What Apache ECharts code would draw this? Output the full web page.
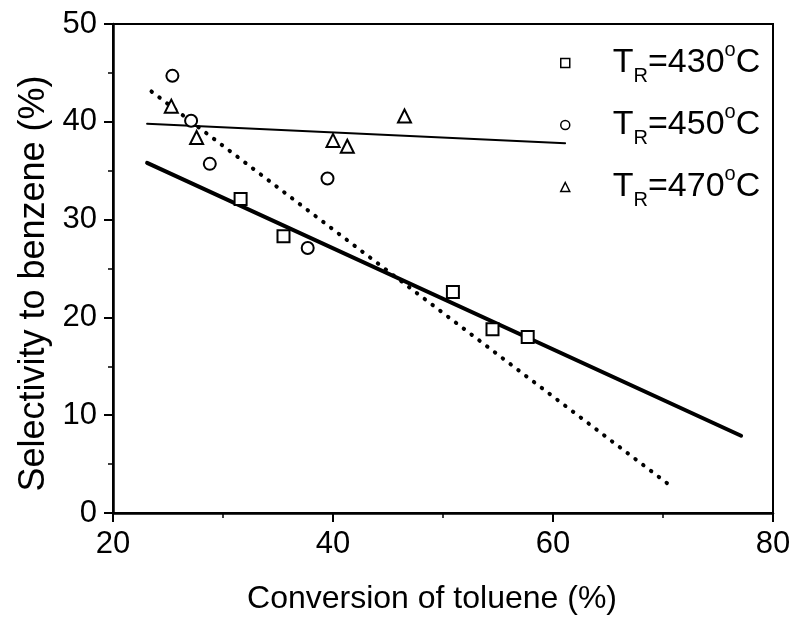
<!DOCTYPE html>
<html>
<head>
<meta charset="utf-8">
<script src="https://cdn.jsdelivr.net/npm/echarts@6/dist/echarts.min.js"></script>
<style>
  html, body { margin: 0; padding: 0; background: #fff; }
  #main { width: 797px; height: 621px; }
</style>
</head>
<body>
<div id="main"></div>
<script>
// measured points, [conversion %, selectivity %]
var temps = ['430', '450', '470'];
var pts430 = [[31.6, 32.1], [35.5, 28.3], [50.9, 22.6], [54.5, 18.8], [57.7, 18.0]];
var pts450 = [[25.4, 44.7], [27.1, 40.1], [28.8, 35.7], [37.7, 27.1], [39.5, 34.2]];
var pts470 = [[25.3, 41.6], [27.6, 38.4], [40.0, 38.1], [41.3, 37.5], [46.5, 40.6]];
// fitted lines (end points)
var fit430 = [[23.1, 35.8], [77.1, 7.9]];
var fit450 = [[23.5, 43.1], [70.9, 2.6]];
var fit470 = [[23.1, 39.8], [61.1, 37.8]];

var FONT = 'Liberation Sans, Arial, sans-serif';
var chart = echarts.init(document.getElementById('main'));

function pointSeries(name, data, symbol, size) {
    return {
        name: name,
        type: 'scatter',
        data: data,
        symbol: symbol,
        symbolSize: size,
        itemStyle: { color: '#fff', borderColor: '#000', borderWidth: 2, opacity: 1 },
        z: 3
    };
}
function fitSeries(name, data, width, type) {
    return {
        name: name,
        type: 'line',
        data: data,
        symbol: 'none',
        lineStyle: { color: '#000', width: width, type: type, cap: 'round' },
        z: 2,
        silent: true
    };
}

var option = {
    backgroundColor: '#fff',
    animation: false,
    textStyle: { fontFamily: FONT, color: '#000' },
    grid: { left: 113, right: 24, top: 24, bottom: 108, show: true, borderColor: '#000', borderWidth: 2 },
    legend: {
        data: temps,
        orient: 'vertical',
        left: 560,
        top: 40,
        padding: 0,
        itemWidth: 9,
        itemHeight: 9,
        itemGap: 16,
        itemStyle: { color: '#fff', borderColor: '#000', borderWidth: 1.5 },
        formatter: function (t) {
            return '{t|T}{sub|R}{t|=' + t + '}{sup|o}{t|C}';
        },
        textStyle: {
            padding: [0, 0, 0, 38],
            rich: {
                t: { fontSize: 34, fontFamily: FONT, color: '#000', lineHeight: 46 },
                sub: { fontSize: 20, fontFamily: FONT, color: '#000', lineHeight: 16, verticalAlign: 'bottom' },
                sup: { fontSize: 20, fontFamily: FONT, color: '#000', lineHeight: 26, verticalAlign: 'top' }
            }
        }
    },
    xAxis: {
        type: 'value',
        min: 20, max: 80, interval: 20,
        name: 'Conversion of toluene (%)',
        nameLocation: 'middle',
        nameGap: 70,
        nameTextStyle: { fontSize: 32, fontFamily: FONT, color: '#000', padding: [0, 22, 0, 0] },
        axisLine: { lineStyle: { color: '#000', width: 2.5 } },
        axisTick: { show: true, length: 9, lineStyle: { color: '#000', width: 2 } },
        minorTick: { show: true, splitNumber: 2, length: 5, lineStyle: { color: '#000', width: 1.5 } },
        splitLine: { show: false },
        axisLabel: { fontSize: 31, color: '#000', margin: 16, fontFamily: FONT }
    },
    yAxis: {
        type: 'value',
        min: 0, max: 50, interval: 10,
        name: 'Selectivity to benzene (%)',
        nameLocation: 'middle',
        nameGap: 60,
        nameTextStyle: { fontSize: 36, fontFamily: FONT, color: '#000', padding: [0, 30, 0, 0] },
        axisLine: { show: true, lineStyle: { color: '#000', width: 2.5 } },
        axisTick: { show: true, length: 9, lineStyle: { color: '#000', width: 2 } },
        minorTick: { show: true, splitNumber: 2, length: 5, lineStyle: { color: '#000', width: 1.5 } },
        splitLine: { show: false },
        axisLabel: { fontSize: 31, color: '#000', margin: 16, fontFamily: FONT }
    },
    series: [
        fitSeries('fit430', fit430, 4, 'solid'),
        fitSeries('fit450', fit450, 4, [0.5, 9.3]),
        fitSeries('fit470', fit470, 2, 'solid'),
        pointSeries('430', pts430, 'rect', 12),
        pointSeries('450', pts450, 'circle', 12),
        pointSeries('470', pts470, 'triangle', 13)
    ]
};
chart.setOption(option);
</script>
</body>
</html>
